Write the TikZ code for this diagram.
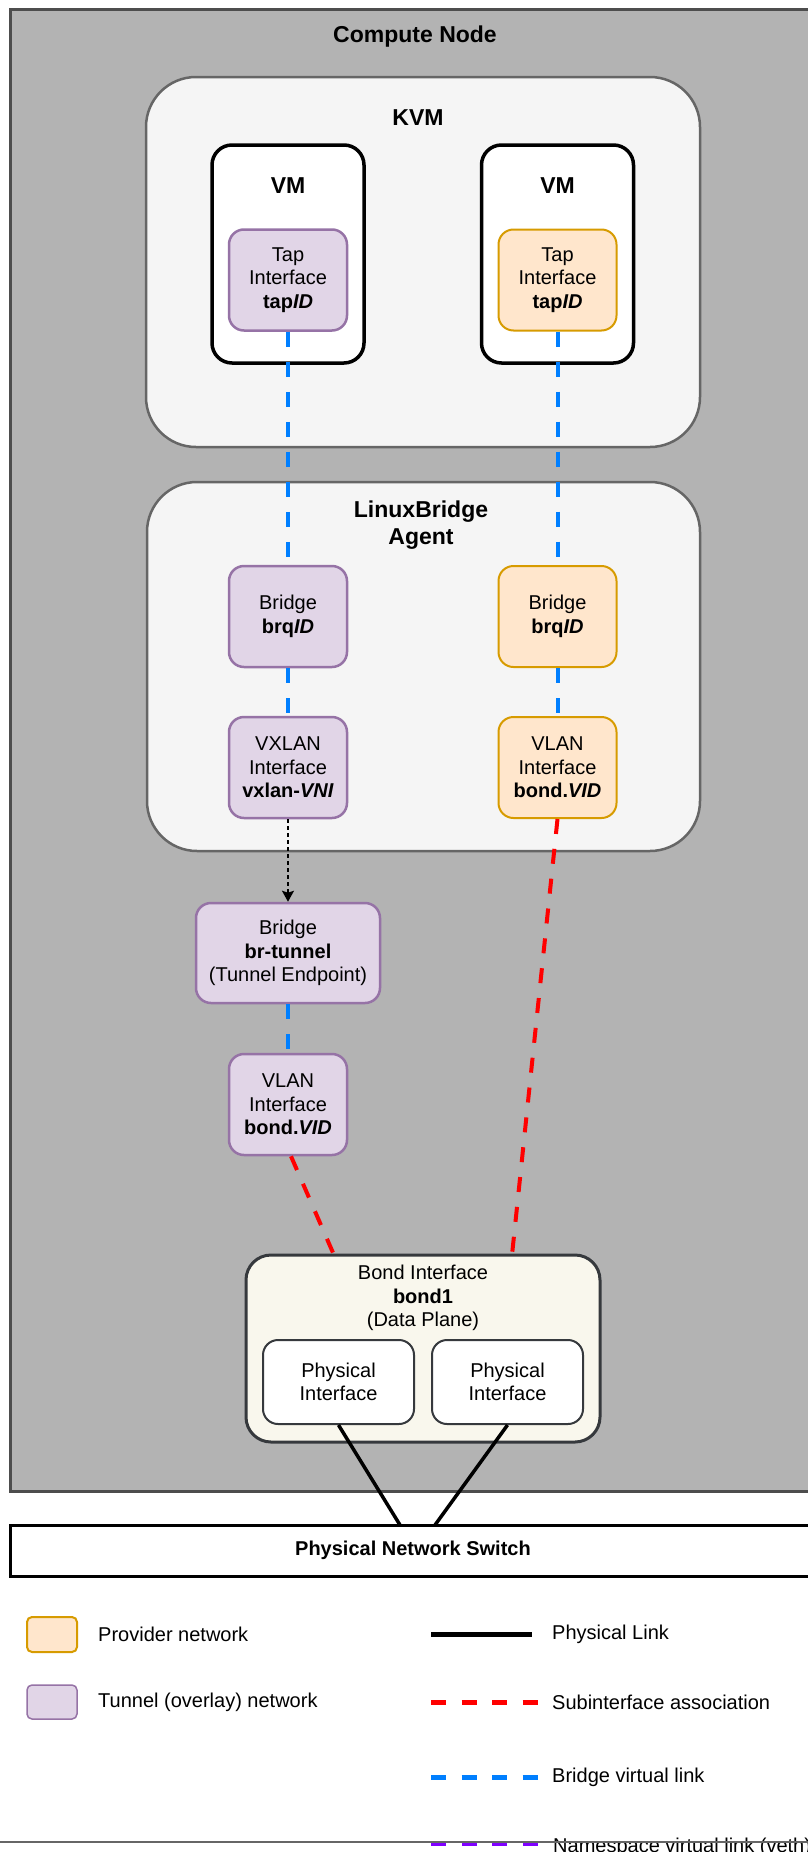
\documentclass[tikz,border=0pt]{standalone}
\usepackage{fontspec}
\setmainfont{Liberation Sans}
\usetikzlibrary{arrows.meta}
\definecolor{cgray}{HTML}{B3B3B3}
\definecolor{cgline}{HTML}{4D4D4D}
\definecolor{kvmfill}{HTML}{F5F5F5}
\definecolor{kvmline}{HTML}{666666}
\definecolor{purpfill}{HTML}{E1D5E7}
\definecolor{purpline}{HTML}{9673A6}
\definecolor{orfill}{HTML}{FFE6CC}
\definecolor{orline}{HTML}{D79B00}
\definecolor{bondfill}{HTML}{F9F7ED}
\definecolor{bondline}{HTML}{36393D}
\definecolor{bluelink}{HTML}{007FFF}
\definecolor{redlink}{HTML}{FF0000}
\definecolor{nslink}{HTML}{7F00FF}
\newcommand\ttlfont{\fontsize{23}{27}\selectfont\bfseries}
\newcommand\regfont{\fontsize{20}{23.5}\selectfont}
\tikzset{
  ifbox/.style={rounded corners=15pt, minimum width=118pt, minimum height=101pt, inner sep=0pt, align=center, font=\regfont},
  purp/.style={ifbox, fill=purpfill, draw=purpline, line width=2.5pt},
  oran/.style={ifbox, fill=orfill, draw=orline, line width=2pt},
  container/.style={rounded corners=50pt, fill=kvmfill, draw=kvmline, line width=2.5pt, inner sep=0pt},
  vmbox/.style={rounded corners=20pt, fill=white, draw=black, line width=3.5pt, minimum width=152pt, minimum height=218pt, inner sep=0pt},
  physbox/.style={rounded corners=15pt, fill=white, draw=bondline, line width=2pt, minimum width=151pt, minimum height=84pt, inner sep=0pt, align=center, font=\regfont},
  title/.style={font=\ttlfont, inner sep=0pt, align=center},
  regtext/.style={font=\regfont, inner sep=0pt, align=center},
  bridgelink/.style={draw=bluelink, line width=4pt, dash pattern=on 15pt off 15pt},
  sublink/.style={draw=redlink, line width=4pt, dash pattern=on 15pt off 15pt},
  physlink/.style={draw=black, line width=3.5pt},
  tunnelarrow/.style={draw=black, line width=1.8pt, dash pattern=on 4pt off 3pt, -{Stealth[length=11pt, width=12pt, inset=2pt]}},
  legendtext/.style={font=\regfont, inner sep=0pt, anchor=west},
}
\begin{document}
\begin{tikzpicture}[x=1pt, y=-1pt]
\useasboundingbox (0,0) rectangle (808,1852);
\clip (0,0) rectangle (808,1852);
\fill[white] (0,0) rectangle (808,1852);

% Compute node
\draw[fill=cgray, draw=cgline, line width=3pt] (10,10) rectangle (830,1491);
\node[title] (cnt) at (415,36.5) {Compute Node};

% KVM
\node[container, minimum width=554pt, minimum height=370pt] (kvm) at (423,262) {};
\node[title] (kvmt) at (418,118) {KVM};
\node[vmbox] (vmL) at (288,254) {};
\node[vmbox] (vmR) at (557.5,254) {};
\node[title] (vmLt) at (288,186) {VM};
\node[title] (vmRt) at (557.5,186) {VM};
\node[purp] (tapL) at (288,280) {Tap\\Interface\\\textbf{tap\textit{ID}}};
\node[oran] (tapR) at (557.5,280) {Tap\\Interface\\\textbf{tap\textit{ID}}};

% LinuxBridge agent
\node[container, minimum width=553pt, minimum height=369pt] (lb) at (423.5,666.5) {};
\node[title] (lbt) at (421,525) {LinuxBridge\\Agent};
\node[purp] (brqL) at (288,616.5) {Bridge\\\textbf{brq\textit{ID}}};
\node[oran] (brqR) at (557.5,616.5) {Bridge\\\textbf{brq\textit{ID}}};
\node[purp] (vxlan) at (288,767.5) {VXLAN\\Interface\\\textbf{vxlan-\textit{VNI}}};
\node[oran] (vlanR) at (557.5,767.5) {VLAN\\Interface\\\textbf{bond.\textit{VID}}};

% tunnel side
\node[purp, minimum width=184pt, minimum height=100pt] (brt) at (288,953) {Bridge\\\textbf{br-tunnel}\\(Tunnel Endpoint)};
\node[purp] (vlanL) at (288,1104.5) {VLAN\\Interface\\\textbf{bond.\textit{VID}}};

% Bond
\node[rounded corners=25pt, fill=bondfill, draw=bondline, line width=3pt, minimum width=354pt, minimum height=187pt, inner sep=0pt] (bond) at (423,1348.5) {};
\node[regtext] (bondt) at (423,1298) {Bond Interface\\\textbf{bond1}\\(Data Plane)};
\node[physbox] (physL) at (338.5,1382) {Physical\\Interface};
\node[physbox] (physR) at (507.5,1382) {Physical\\Interface};

% Switch
\node[draw=black, fill=white, line width=3pt, minimum width=806pt, minimum height=51pt, inner sep=0pt, font=\fontsize{20}{24}\selectfont\bfseries] (sw) at (413,1550.5) {Physical Network Switch};

% connection points
\coordinate (bondA) at (334,1255);
\coordinate (bondB) at (512,1255);
\coordinate (swA) at (400,1525);
\coordinate (swB) at (435,1525);

% connectors
\draw[bridgelink] (tapL.south) -- (brqL.north);
\draw[bridgelink] (tapR.south) -- (brqR.north);
\draw[bridgelink] (brqL.south) -- (vxlan.north);
\draw[bridgelink] (brqR.south) -- (vlanR.north);
\draw[tunnelarrow] (vxlan.south) -- (brt.north);
\draw[bridgelink] (brt.south) -- (vlanL.north);
\draw[sublink] ([xshift=3pt]vlanL.south) -- (bondA);
\draw[sublink] (vlanR.south) -- (bondB);
\draw[physlink] (physL.south) -- (swA);
\draw[physlink] (physR.south) -- (swB);

% Legend
\node[rounded corners=5pt, fill=orfill, draw=orline, line width=2pt, minimum width=50pt, minimum height=35pt, inner sep=0pt] (lgprov) at (52,1634.5) {};
\node[legendtext] (lgprovt) at (98,1634) {Provider network};
\node[rounded corners=5pt, fill=purpfill, draw=purpline, line width=1.5pt, minimum width=50pt, minimum height=34pt, inner sep=0pt] (lgtun) at (52,1702) {};
\node[legendtext] (lgtunt) at (98,1702) {Tunnel (overlay) network};

\coordinate (l1a) at (431,1634); \coordinate (l1b) at (532,1634);
\coordinate (l2a) at (431,1702); \coordinate (l2b) at (540,1702);
\coordinate (l3a) at (431,1777); \coordinate (l3b) at (540,1777);
\coordinate (l4a) at (431,1843); \coordinate (l4b) at (540,1843);
\draw[black, line width=5pt] (l1a) -- (l1b);
\draw[redlink, line width=5pt, dash pattern=on 15pt off 15.5pt] (l2a) -- (l2b);
\draw[bluelink, line width=5pt, dash pattern=on 15pt off 15.5pt] (l3a) -- (l3b);
\draw[nslink, line width=5pt, dash pattern=on 15pt off 15.5pt] (l4a) -- (l4b);
\node[legendtext] (lg1t) at (552,1634) {Physical Link};
\node[legendtext] (lg2t) at (552,1702) {Subinterface association};
\node[legendtext] (lg3t) at (552,1777) {Bridge virtual link};
\node[legendtext, anchor=base west] (lg4t) at (553,1852) {Namespace virtual link (veth)};

% page break line
\coordinate (pbA) at (0,1842); \coordinate (pbB) at (808,1842);
\draw[kvmline, line width=1.5pt] (pbA) -- (pbB);
\end{tikzpicture}
\end{document}
